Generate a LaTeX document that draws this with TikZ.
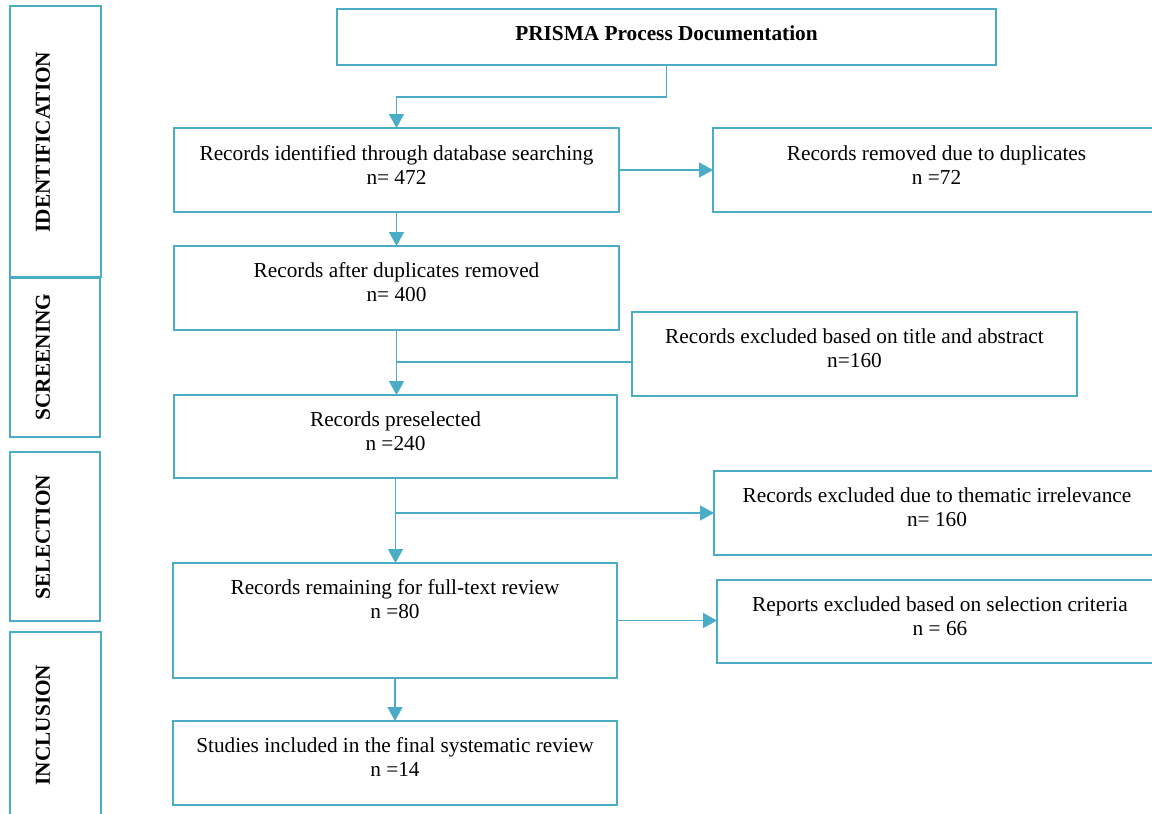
\documentclass[tikz,border=0pt]{standalone}
\usepackage{fontspec}
\setmainfont{Liberation Serif}
\usetikzlibrary{arrows.meta,calc}
\definecolor{acc}{HTML}{4BACC6}
\begin{document}
\begin{tikzpicture}[x=1pt,y=-1pt,
  box/.style={draw=acc,line width=1.3pt,fill=white,inner sep=0pt,outer sep=0pt},
  lbl/.style={align=center,inner sep=0pt,font=\fontsize{21.3}{24}\selectfont},
  side/.style={inner sep=0pt,rotate=90,font=\fontsize{21.3}{24}\selectfont\bfseries},
  conn/.style={draw=acc,line width=1.5pt},
  arr/.style={conn,-{Triangle[width=15pt,length=14pt]}}]
\clip (0,0) rectangle (1152,814);
\fill[white] (0,0) rectangle (1152,814);
% stage boxes
\node[box,minimum width=91pt,minimum height=271pt] (L1) at (55.5,141.5) {};
\node[box,minimum width=90pt,minimum height=159pt] (L2) at (55,357.5) {};
\node[box,minimum width=90pt,minimum height=169pt] (L3) at (55,536.5) {};
\node[box,minimum width=91pt,minimum height=190pt] (L4) at (55.5,727) {};
\node[side] (s1) at (43,142) {IDENTIFICATION};
\node[side] (s2) at (43,357) {SCREENING};
\node[side] (s3) at (43,537) {SELECTION};
\node[side] (s4) at (43,725) {INCLUSION};
% main boxes
\node[box,minimum width=659pt,minimum height=56pt] (title) at (666.5,37) {};
\node[lbl,font=\fontsize{21.3}{24}\selectfont\bfseries] (tt) at (666.5,33) {PRISMA Process Documentation};
\node[box,minimum width=445pt,minimum height=84pt] (b1) at (396.5,170) {};
\node[box,minimum width=447pt,minimum height=84pt] (r1) at (936.5,170) {};
\node[box,minimum width=445pt,minimum height=84pt] (b2) at (396.5,288) {};
\node[box,minimum width=445pt,minimum height=84pt] (r2) at (854.5,354) {};
\node[box,minimum width=443pt,minimum height=83pt] (b3) at (395.5,436.5) {};
\node[box,minimum width=446pt,minimum height=84pt] (r3) at (937,513) {};
\node[box,minimum width=444pt,minimum height=115pt] (b4) at (395,620.5) {};
\node[box,minimum width=446pt,minimum height=83pt] (r4) at (940,621.5) {};
\node[box,minimum width=444pt,minimum height=84pt] (b5) at (395,763) {};
% texts
\node[lbl] (t1) at ($(b1.north)+(0,37)$) {Records identified through database searching\\n= 472};
\node[lbl] (u1) at ($(r1.north)+(0,37)$) {Records removed due to duplicates\\n =72};
\node[lbl] (t2) at ($(b2.north)+(0,36)$) {Records after duplicates removed\\n= 400};
\node[lbl] (u2) at ($(r2.north)+(0,36.5)$) {Records excluded based on title and abstract\\n=160};
\node[lbl] (t3) at ($(b3.north)+(0,36)$) {Records preselected\\n =240};
\node[lbl] (u3) at ($(r3.north)+(0,36.5)$) {Records excluded due to thematic irrelevance\\n= 160};
\node[lbl] (t4) at ($(b4.north)+(0,36)$) {Records remaining for full-text review\\n =80};
\node[lbl] (u4) at ($(r4.north)+(0,36)$) {Reports excluded based on selection criteria\\n = 66};
\node[lbl] (t5) at ($(b5.north)+(0,36)$) {Studies included in the final systematic review\\n =14};
% connectors
\draw[arr] (title.south) -- ++(0,32) -| (b1.north);
\draw[arr] (b1.east) -- (r1.west);
\draw[arr] (b1.south) -- (b2.north);
\coordinate (m2) at (396.5,362);
\draw[arr] (b2.south) -- (b3.north -| b2.south);
\draw[conn] (r2.west |- m2) -- (m2);
\coordinate (m3) at (b3.south |- r3.west);
\draw[arr] (b3.south) -- (b4.north -| b3.south);
\draw[arr] (m3) -- (r3.west);
\draw[arr] (b4.east) -- (r4.west |- b4.east);
\draw[arr] (b4.south) -- (b5.north);
\end{tikzpicture}
\end{document}
